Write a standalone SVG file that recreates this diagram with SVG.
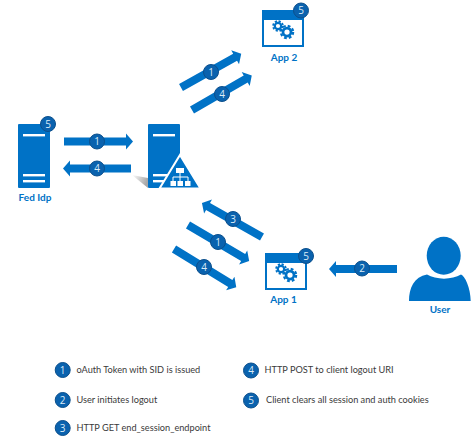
<svg xmlns="http://www.w3.org/2000/svg" width="474" height="440" viewBox="0 0 474 440">
<style>
text{font-family:Lato,"Open Sans","Liberation Sans",sans-serif}
.b{fill:#0072c6}
.arrow{fill:#0072c6}
.st{fill:#fff}
.badge circle{fill:#0a62ae;stroke:#0b4f8c;stroke-width:1}
.badge text{fill:#dcecf8;font-size:10px;text-anchor:middle;font-family:"Open Sans",sans-serif}
.lbl{fill:#0072c6;font-size:10px;font-weight:700;text-anchor:middle}
.leg{fill:#3a3a3a;font-size:9.200px}
.win{fill:#fff;stroke:#0072c6;stroke-width:2}
</style>
<defs>
<linearGradient id="sh" x1="0" x2="1" y1="0" y2="0.3"><stop offset="0" stop-color="#fff"/><stop offset="1" stop-color="#a8a8a8"/></linearGradient>
<g id="gear"><circle r="3.2" fill="none" stroke="#0072c6" stroke-width="2.2"/><circle r="4.9" fill="none" stroke="#0072c6" stroke-width="1.8" stroke-dasharray="2.2 1.65"/></g>
<g id="win"><rect class="win" x="1" y="1" width="40" height="35"/><rect class="b" width="42" height="10"/><use href="#gear" transform="translate(16,16)"/><use href="#gear" transform="translate(25,22) scale(1.25)"/></g>
<g id="srv"><rect class="b" width="32" height="64" rx="1"/><rect class="st" x="5" y="10" width="22" height="2.400"/><rect class="st" x="5" y="50" width="22" height="2.400"/><rect class="st" x="5" y="56" width="22" height="2.400"/></g>
</defs>
<g id="connectors">
<path class="arrow" transform="translate(64,141.500)" d="M0,-4H62V-8L69,0L62,8V4H0Z"/>
<path class="arrow" transform="translate(131,168.500) rotate(180)" d="M0,-4H61V-8L68,0L61,8V4H0Z"/>
<path class="arrow" transform="translate(181,87.500) rotate(-29.200)" d="M0,-4H62V-8L69,0L62,8V4H0Z"/>
<path class="arrow" transform="translate(192,110) rotate(-30)" d="M0,-4H62V-8L69,0L62,8V4H0Z"/>
<path class="arrow" transform="translate(262,237) rotate(209.500)" d="M0,-4H62V-8L69,0L62,8V4H0Z"/>
<path class="arrow" transform="translate(188,225) rotate(30.500)" d="M0,-4H64V-8L71,0L64,8V4H0Z"/>
<path class="arrow" transform="translate(174,249) rotate(31.500)" d="M0,-4H66V-8L73,0L66,8V4H0Z"/>
<path class="arrow" transform="translate(397,269) rotate(180)" d="M0,-4H61V-8L68,0L61,8V4H0Z"/>
</g>
<g id="connector-badges">
<g class="badge"><circle cx="97" cy="141.500" r="7.500"/><text x="97" y="145">1</text></g>
<g class="badge"><circle cx="97" cy="168.500" r="7.500"/><text x="97" y="172">4</text></g>
<g class="badge"><circle cx="211" cy="72" r="7.500"/><text x="211" y="75.500">1</text></g>
<g class="badge"><circle cx="222" cy="94" r="7.500"/><text x="222" y="97.500">4</text></g>
<g class="badge"><circle cx="233" cy="219" r="7.500"/><text x="233" y="222.500">3</text></g>
<g class="badge"><circle cx="218" cy="242" r="7.500"/><text x="218" y="245.500">1</text></g>
<g class="badge"><circle cx="204" cy="267" r="7.500"/><text x="204" y="270.500">4</text></g>
<g class="badge"><circle cx="362" cy="268.500" r="7.500"/><text x="362" y="272">2</text></g>
</g>
<g id="fed-idp">
<use href="#srv" x="18" y="124"/>
<g class="badge"><circle cx="48" cy="124" r="7.500"/><text x="48" y="127.500">5</text></g>
<text class="lbl" x="35" y="200.500">Fed Idp</text>
</g>
<g id="federation-server">
<polygon points="132,175 148,178 148,188" fill="url(#sh)"/>
<use href="#srv" x="148" y="124"/>
<polygon points="180,155 200.500,188.500 159.500,188.500" class="b" stroke="#fff" stroke-width="2"/>
<path d="M180,173V177M173,181V177H188V181M180,177V181" fill="none" stroke="#fff" stroke-width="1"/>
<rect class="st" x="176" y="168" width="8" height="5"/>
<rect class="st" x="170.500" y="181" width="5.500" height="5"/>
<rect class="st" x="177.500" y="181" width="5.500" height="5"/>
<rect class="st" x="185" y="181" width="5.500" height="5"/>
</g>
<g id="app-2">
<use href="#win" x="262" y="10"/>
<g class="badge"><circle cx="301" cy="10.500" r="7.500"/><text x="301" y="14">5</text></g>
<text class="lbl" x="284" y="60.500">App 2</text>
</g>
<g id="app-1">
<use href="#win" x="265" y="253"/>
<g class="badge"><circle cx="306" cy="256" r="7.500"/><text x="306" y="259.500">5</text></g>
<text class="lbl" x="283.500" y="303">App 1</text>
</g>
<g id="user">
<ellipse class="b" cx="443.700" cy="255.700" rx="17" ry="19"/>
<path class="b" d="M409,301C409,288 414,277 427,274.500C436,280 452,280 461,274.500C465,276 470.500,288 470.700,301Z"/>
<text class="lbl" x="440" y="313">User</text>
</g>
<g id="legend">
<g class="badge"><circle cx="62.700" cy="370" r="7.500"/><text x="62.700" y="373.500">1</text></g>
<text class="leg" x="76.500" y="373">oAuth Token with SID is issued</text>
<g class="badge"><circle cx="62.700" cy="400" r="7.500"/><text x="62.700" y="403.500">2</text></g>
<text class="leg" x="76.500" y="403">User initiates logout</text>
<g class="badge"><circle cx="62.700" cy="428" r="7.500"/><text x="62.700" y="431.500">3</text></g>
<text class="leg" x="76.500" y="431">HTTP GET end_session_endpoint</text>
<g class="badge"><circle cx="251" cy="370.500" r="7.500"/><text x="251" y="374">4</text></g>
<text class="leg" x="264.500" y="373">HTTP POST to client logout URI</text>
<g class="badge"><circle cx="251" cy="400.500" r="7.500"/><text x="251" y="404">5</text></g>
<text class="leg" x="266" y="403">Client clears all session and auth cookies</text>
</g>
</svg>
